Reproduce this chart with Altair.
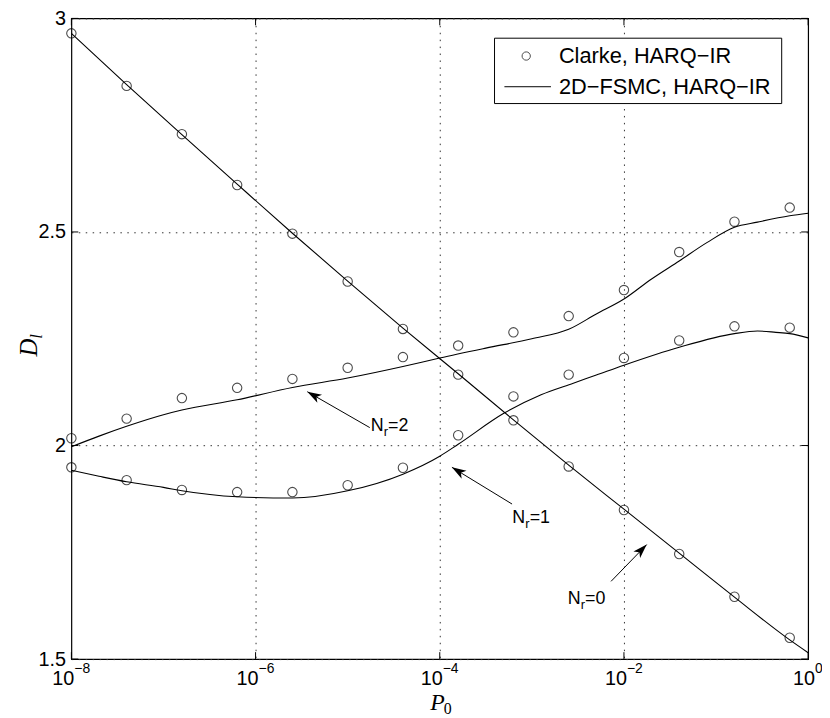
import math
import altair as alt
import pandas as pd

# ---------------- data ----------------
# marker (Clarke, HARQ-IR) positions: exponents of P0
mk_exp = [-8.0, -7.4, -6.8, -6.2, -5.6, -5.0, -4.4, -3.8, -3.2, -2.6, -2.0, -1.4, -0.8, -0.2]
clarke_n0 = [2.965, 2.842, 2.729, 2.610, 2.496, 2.384, 2.273, 2.166, 2.059, 1.951, 1.849, 1.746, 1.646, 1.550]
clarke_n1 = [1.949, 1.919, 1.896, 1.891, 1.891, 1.907, 1.948, 2.024, 2.115, 2.166, 2.205, 2.246, 2.279, 2.276]
clarke_n2 = [2.017, 2.063, 2.111, 2.135, 2.156, 2.182, 2.207, 2.234, 2.265, 2.303, 2.364, 2.453, 2.524, 2.557]

# 2D-FSMC, HARQ-IR curves
n0_exp = [-8.0, -7.4, -6.8, -6.2, -5.6, -5.0, -4.4, -3.8, -3.2, -2.6, -2.0, -1.4, -0.8, -0.2, 0.0]
fsmc_n0 = [2.965, 2.845, 2.728, 2.612, 2.497, 2.385, 2.275, 2.168, 2.060, 1.954, 1.851, 1.748, 1.645, 1.545, 1.515]

n1_exp = [-8.0, -7.7, -7.4, -7.0, -6.8, -6.2, -5.6, -5.0, -4.4, -4.0, -3.8, -3.3, -2.9, -2.55, -2.3, -2.0, -1.4, -0.8, -0.55, -0.35, -0.2, 0.0]
fsmc_n1 = [1.942, 1.928, 1.915, 1.902, 1.894, 1.880, 1.877, 1.894, 1.933, 1.975, 2.003, 2.076, 2.119, 2.146, 2.165, 2.188, 2.230, 2.262, 2.268, 2.265, 2.262, 2.252]

n2_exp = [-8.0, -7.7, -7.4, -7.0, -6.8, -6.2, -5.6, -5.0, -4.4, -4.0, -3.5, -3.0, -2.6, -2.3, -2.0, -1.7, -1.4, -1.1, -0.8, -0.55, -0.2, 0.0]
fsmc_n2 = [1.997, 2.022, 2.045, 2.072, 2.083, 2.107, 2.136, 2.158, 2.185, 2.205, 2.228, 2.250, 2.272, 2.308, 2.343, 2.390, 2.432, 2.475, 2.511, 2.523, 2.538, 2.544]

x_tick_exp = [-8, -6, -4, -2, 0]
x_tick_sup = ["\u22128", "\u22126", "\u22124", "\u22122", "0"]
y_ticks = [1.5, 2.0, 2.5, 3.0]

# annotations: label, text anchor (exp, value), arrow tail (exp, value), arrow head (exp, value)
ann_label = ["2", "1", "0"]
ann_text_exp = [-4.749, -3.212, -2.610]
ann_text_val = [2.035, 1.819, 1.629]
ann_tail_exp = [-4.760, -3.215, -2.140]
ann_tail_val = [2.042, 1.863, 1.682]
ann_head_exp = [-5.438, -3.868, -1.753]
ann_head_val = [2.126, 1.949, 1.768]

legend_labels = ["Clarke, HARQ\u2212IR", "2D\u2212FSMC, HARQ\u2212IR"]

# ---------------- layout ----------------
W, H = 744, 647
XDOM = [1e-8, 1.0]
YDOM = [1.5, 3.0]
SANS = "Liberation Sans"
SERIF = "Liberation Serif"


def px_x(e):
    return (e - (-8.0)) / 8.0 * W


def px_y(v):
    return (YDOM[1] - v) / (YDOM[1] - YDOM[0]) * H


xscale = alt.Scale(type="log", domain=XDOM, nice=False)
yscale = alt.Scale(domain=YDOM, nice=False, zero=False)

xaxis = alt.Axis(values=[1e-6, 1e-4, 1e-2], grid=True, labels=False, ticks=False,
                 domain=False, title=None, gridDash=[1.5, 5.5], gridColor="#333",
                 gridWidth=1)
yaxis = alt.Axis(values=y_ticks, grid=True, ticks=False, domain=False, title=None,
                 gridDash=[1.5, 5.5], gridColor="#333", gridWidth=1,
                 labelFont=SANS, labelFontSize=20, labelColor="black", labelPadding=6,
                 labelExpr="datum.value == 2 ? '2' : datum.value == 3 ? '3' : format(datum.value, '.1f')")


def X(field="P0"):
    return alt.X(f"{field}:Q", scale=xscale, axis=xaxis)


def Y(field="D"):
    return alt.Y(f"{field}:Q", scale=yscale, axis=yaxis)


def df_series(exps, vals):
    return pd.DataFrame({"P0": [10 ** e for e in exps], "D": vals})


layers = []

# curves
for exps, vals in [(n0_exp, fsmc_n0), (n1_exp, fsmc_n1), (n2_exp, fsmc_n2)]:
    layers.append(
        alt.Chart(df_series(exps, vals)).mark_line(color="black", strokeWidth=1.1,
                                                   interpolate="monotone")
        .encode(x=X(), y=Y())
    )

# markers
for vals in [clarke_n0, clarke_n1, clarke_n2]:
    layers.append(
        alt.Chart(df_series(mk_exp, vals)).mark_point(shape="circle", filled=False,
                                                      color="black", size=90,
                                                      strokeWidth=1.1)
        .encode(x=X(), y=Y())
    )

# inside ticks
xt = pd.DataFrame({"P0": [10 ** e for e in x_tick_exp]})
layers.append(alt.Chart(xt).mark_rule(color="black", strokeWidth=1)
              .encode(x=X(), y=alt.value(H), y2=alt.value(H - 7)))
layers.append(alt.Chart(xt).mark_rule(color="black", strokeWidth=1)
              .encode(x=X(), y=alt.value(0), y2=alt.value(7)))
yt = pd.DataFrame({"D": y_ticks})
layers.append(alt.Chart(yt).mark_rule(color="black", strokeWidth=1)
              .encode(y=Y(), x=alt.value(0), x2=alt.value(7)))
layers.append(alt.Chart(yt).mark_rule(color="black", strokeWidth=1)
              .encode(y=Y(), x=alt.value(W - 7), x2=alt.value(W)))

# x tick labels: 10 with superscript exponent, whole label centred on the tick
xl = pd.DataFrame({"P0": [10 ** e for e in x_tick_exp], "base": ["10"] * 5, "sup": x_tick_sup})
for rows, shift in [([0, 1, 2, 3], 3), ([4], 7)]:
    sub = xl.iloc[rows]
    layers.append(alt.Chart(sub).mark_text(font=SANS, fontSize=20, align="right", baseline="alphabetic",
                                           dx=shift, color="black")
                  .encode(x=X(), y=alt.value(H + 26), text="base:N"))
    layers.append(alt.Chart(sub).mark_text(font=SANS, fontSize=14, align="left", baseline="alphabetic",
                                           dx=shift, color="black")
                  .encode(x=X(), y=alt.value(H + 14), text="sup:N"))

# axis titles
layers.append(alt.Chart(pd.DataFrame({"t": ["P"]})).mark_text(
    font=SERIF, fontStyle="italic", fontSize=24, align="right", baseline="alphabetic", color="black")
    .encode(x=alt.value(W / 2 + 5), y=alt.value(H + 51), text="t:N"))
layers.append(alt.Chart(pd.DataFrame({"t": ["0"]})).mark_text(
    font=SERIF, fontSize=16, align="left", baseline="alphabetic", color="black")
    .encode(x=alt.value(W / 2 + 4), y=alt.value(H + 55), text="t:N"))
layers.append(alt.Chart(pd.DataFrame({"t": ["D"]})).mark_text(
    font=SERIF, fontStyle="italic", fontSize=25, align="center", baseline="alphabetic",
    angle=270, color="black")
    .encode(x=alt.value(-35), y=alt.value(H / 2 + 9), text="t:N"))
layers.append(alt.Chart(pd.DataFrame({"t": ["l"]})).mark_text(
    font=SERIF, fontStyle="italic", fontSize=17, align="left", baseline="alphabetic",
    angle=270, dx=9, dy=5, color="black")
    .encode(x=alt.value(-35), y=alt.value(H / 2 + 9), text="t:N"))

# annotations
ann_rows = []
arrow_rows = []
for lab, te, tv, ae, av, he, hv in zip(ann_label, ann_text_exp, ann_text_val, ann_tail_exp,
                                        ann_tail_val, ann_head_exp, ann_head_val):
    ann_rows.append({"P0": 10 ** te, "D": tv, "N": "N", "r": "r", "eq": "=" + lab})
    dx = px_x(he) - px_x(ae)
    dy = px_y(hv) - px_y(av)
    ang = math.degrees(math.atan2(dx, -dy)) % 360
    arrow_rows.append({"P0": 10 ** ae, "D": av, "P0h": 10 ** he, "Dh": hv, "ang": ang})
ann = pd.DataFrame(ann_rows)
arr = pd.DataFrame(arrow_rows)

layers.append(alt.Chart(ann).mark_text(font=SANS, fontSize=18, align="left", baseline="alphabetic",
                                       color="black")
              .encode(x=X(), y=Y(), text="N:N"))
layers.append(alt.Chart(ann).mark_text(font=SANS, fontSize=13, align="left", baseline="alphabetic",
                                       dx=13, dy=5, color="black")
              .encode(x=X(), y=Y(), text="r:N"))
layers.append(alt.Chart(ann).mark_text(font=SANS, fontSize=18, align="left", baseline="alphabetic",
                                       dx=17.5, color="black")
              .encode(x=X(), y=Y(), text="eq:N"))
layers.append(alt.Chart(arr).mark_rule(color="black", strokeWidth=1)
              .encode(x=X(), y=Y(), x2="P0h:Q", y2="Dh:Q"))
layers.append(alt.Chart(arr).mark_point(
    shape="M0,0 L0.62,1.9 L0,1.4 L-0.62,1.9 Z", filled=True, color="black", size=230, opacity=1)
    .encode(x=alt.X("P0h:Q", scale=xscale, axis=xaxis), y=alt.Y("Dh:Q", scale=yscale, axis=yaxis),
            angle=alt.Angle("ang:Q", scale=None)))

# legend (box at top right)
LX0, LX1, LY0, LY1 = 499 - 71.7, 789 - 71.7, 35 - 15, 101 - 15
layers.append(alt.Chart(pd.DataFrame({"a": [0]})).mark_rect(fill="white", stroke="black", strokeWidth=1)
              .encode(x=alt.value(LX0), x2=alt.value(LX1), y=alt.value(LY0), y2=alt.value(LY1)))
layers.append(alt.Chart(pd.DataFrame({"a": [0]})).mark_point(shape="circle", filled=False, color="black",
                                                             size=70, strokeWidth=1)
              .encode(x=alt.value(531 - 71.7), y=alt.value(53 - 15)))
layers.append(alt.Chart(pd.DataFrame({"a": [0]})).mark_rule(color="black", strokeWidth=1)
              .encode(x=alt.value(509 - 71.7), x2=alt.value(556 - 71.7), y=alt.value(84 - 15)))
leg = pd.DataFrame({"t": legend_labels, "row": [0, 1]})
layers.append(alt.Chart(leg.iloc[[0]]).mark_text(font=SANS, fontSize=22, align="left", baseline="middle",
                                                 color="black")
              .encode(x=alt.value(564 - 71.7), y=alt.value(53 - 15), text="t:N"))
layers.append(alt.Chart(leg.iloc[[1]]).mark_text(font=SANS, fontSize=22, align="left", baseline="middle",
                                                 color="black")
              .encode(x=alt.value(564 - 71.7), y=alt.value(84 - 15), text="t:N"))

chart = alt.layer(*layers).properties(
    width=W, height=H,
    autosize=alt.AutoSizeParams(type="none"),
    padding={"left": 64, "top": 7, "right": 14, "bottom": 57},
    background="white",
).configure_view(stroke="black", strokeWidth=1.2)

chart.save("out.html", embed_options={"renderer": "svg", "actions": False})
